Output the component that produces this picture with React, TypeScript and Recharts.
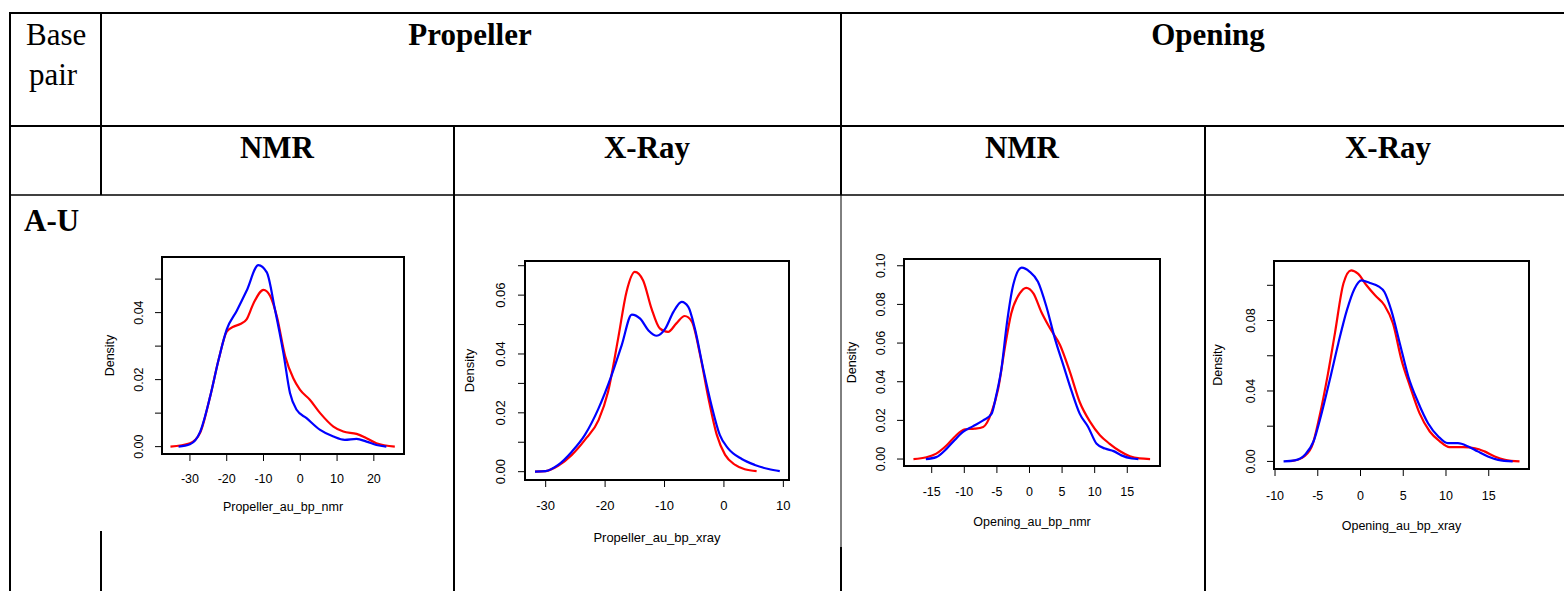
import { LineChart, Line, XAxis, YAxis, ReferenceArea } from "recharts";

// Propeller, NMR (red / blue density curves)
const PROP_NMR_RED = [
  { x: -35.3, d: 0 }, { x: -30, d: 0.001 }, { x: -27.2, d: 0.0042 }, { x: -24.5, d: 0.015 },
  { x: -22.2, d: 0.026 }, { x: -20, d: 0.0343 }, { x: -18.2, d: 0.0358 }, { x: -16.3, d: 0.0366 },
  { x: -14.6, d: 0.038 }, { x: -12.7, d: 0.0428 }, { x: -10, d: 0.0468 }, { x: -8.2, d: 0.045 },
  { x: -6.4, d: 0.039 }, { x: -4.1, d: 0.027 }, { x: -1.9, d: 0.0204 }, { x: -0.1, d: 0.017 },
  { x: 2.6, d: 0.014 }, { x: 5.4, d: 0.01 }, { x: 9, d: 0.006 }, { x: 11.7, d: 0.0045 },
  { x: 15.3, d: 0.0038 }, { x: 18, d: 0.0025 }, { x: 20.7, d: 0.001 }, { x: 25.7, d: 0 },
];
const PROP_NMR_BLUE = [
  { x: -33.1, d: 0 }, { x: -30, d: 0.0007 }, { x: -27.2, d: 0.0045 }, { x: -24.5, d: 0.015 },
  { x: -22.2, d: 0.026 }, { x: -20, d: 0.035 }, { x: -17.3, d: 0.0405 }, { x: -14.6, d: 0.0465 },
  { x: -11.4, d: 0.0542 }, { x: -9.1, d: 0.052 }, { x: -6.9, d: 0.041 }, { x: -4.6, d: 0.028 },
  { x: -2.8, d: 0.016 }, { x: -1, d: 0.011 }, { x: 1.7, d: 0.0085 }, { x: 5.4, d: 0.005 },
  { x: 9, d: 0.003 }, { x: 12.1, d: 0.002 }, { x: 15.3, d: 0.0023 }, { x: 18, d: 0.0015 },
  { x: 20.7, d: 0.0005 }, { x: 23.4, d: 0 },
];

// Propeller, X-Ray
const PROP_XRAY_RED = [
  { x: -31.8, d: 0 }, { x: -30, d: 0.0002 }, { x: -27.9, d: 0.002 }, { x: -25.6, d: 0.0057 },
  { x: -23.4, d: 0.0108 }, { x: -21.1, d: 0.0175 }, { x: -19.5, d: 0.0272 }, { x: -17.8, d: 0.0453 },
  { x: -16.4, d: 0.0611 }, { x: -15, d: 0.0679 }, { x: -13.6, d: 0.065 }, { x: -12.2, d: 0.0555 },
  { x: -10.8, d: 0.0487 }, { x: -9.4, d: 0.0475 }, { x: -8, d: 0.0504 }, { x: -6.6, d: 0.0529 },
  { x: -5.4, d: 0.051 }, { x: -4, d: 0.0396 }, { x: -2.6, d: 0.0249 }, { x: -1.2, d: 0.0125 },
  { x: 0.2, d: 0.0057 }, { x: 1.9, d: 0.0023 }, { x: 3.5, d: 0.0008 }, { x: 5.5, d: 0.0002 },
];
const PROP_XRAY_BLUE = [
  { x: -31.8, d: 0 }, { x: -30, d: 0.0002 }, { x: -27.9, d: 0.0023 }, { x: -25.6, d: 0.0068 },
  { x: -23.4, d: 0.0125 }, { x: -21.1, d: 0.0215 }, { x: -18.9, d: 0.0328 }, { x: -17.2, d: 0.043 },
  { x: -15.5, d: 0.0534 }, { x: -14.1, d: 0.052 }, { x: -12.7, d: 0.048 }, { x: -11.3, d: 0.0462 },
  { x: -9.9, d: 0.0485 }, { x: -8.5, d: 0.0543 }, { x: -7.1, d: 0.0577 }, { x: -6, d: 0.056 },
  { x: -4.9, d: 0.0487 }, { x: -3.5, d: 0.0351 }, { x: -2.1, d: 0.0226 }, { x: -0.7, d: 0.0125 },
  { x: 0.7, d: 0.0079 }, { x: 3, d: 0.0043 }, { x: 5.2, d: 0.0023 }, { x: 7.5, d: 0.0009 },
  { x: 9.4, d: 0.0002 },
];

// Opening, NMR
const OPEN_NMR_RED = [
  { x: -17.8, d: 0 }, { x: -15.8, d: 0.0009 }, { x: -14.3, d: 0.0028 }, { x: -12.7, d: 0.0071 },
  { x: -11.5, d: 0.0114 }, { x: -9.9, d: 0.0154 }, { x: -8.4, d: 0.0157 }, { x: -7.1, d: 0.0166 },
  { x: -5.8, d: 0.0244 }, { x: -4.8, d: 0.0364 }, { x: -3.8, d: 0.0572 }, { x: -2.8, d: 0.0753 },
  { x: -1.5, d: 0.0857 }, { x: -0.5, d: 0.0886 }, { x: 0.6, d: 0.0857 }, { x: 1.8, d: 0.0762 },
  { x: 3.1, d: 0.0679 }, { x: 4.7, d: 0.0589 }, { x: 6.2, d: 0.0451 }, { x: 7.7, d: 0.0295 },
  { x: 9.3, d: 0.0192 }, { x: 10.8, d: 0.0123 }, { x: 12.3, d: 0.0079 }, { x: 13.9, d: 0.004 },
  { x: 15.4, d: 0.0014 }, { x: 16.9, d: 0.0003 }, { x: 18.5, d: 0 },
];
const OPEN_NMR_BLUE = [
  { x: -15.9, d: 0 }, { x: -14.3, d: 0.001 }, { x: -12.7, d: 0.0054 }, { x: -11.5, d: 0.0097 },
  { x: -10.2, d: 0.014 }, { x: -8.7, d: 0.0169 }, { x: -7.1, d: 0.02 }, { x: -5.8, d: 0.0235 },
  { x: -5.1, d: 0.033 }, { x: -4.3, d: 0.0468 }, { x: -3.5, d: 0.0693 }, { x: -2.5, d: 0.09 },
  { x: -1.2, d: 0.099 }, { x: 0, d: 0.097 }, { x: 1.3, d: 0.0917 }, { x: 2.6, d: 0.0788 },
  { x: 3.9, d: 0.0623 }, { x: 5.2, d: 0.0485 }, { x: 6.5, d: 0.0347 }, { x: 7.7, d: 0.0235 },
  { x: 9, d: 0.0166 }, { x: 10.3, d: 0.0079 }, { x: 11.6, d: 0.0054 }, { x: 12.9, d: 0.0041 },
  { x: 14.1, d: 0.0019 }, { x: 15.7, d: 0.0003 }, { x: 16.7, d: 0 },
];

// Opening, X-Ray
const OPEN_XRAY_RED = [
  { x: -8.1, d: 0.0002 }, { x: -6.9, d: 0.0019 }, { x: -5.7, d: 0.0085 }, { x: -4.8, d: 0.0255 },
  { x: -3.8, d: 0.05 }, { x: -3, d: 0.0726 }, { x: -2, d: 0.101 }, { x: -1.1, d: 0.1085 },
  { x: -0.3, d: 0.1066 }, { x: 0.7, d: 0.1 }, { x: 1.7, d: 0.0943 }, { x: 2.8, d: 0.0887 },
  { x: 3.8, d: 0.0783 }, { x: 4.8, d: 0.0575 }, { x: 5.8, d: 0.0425 }, { x: 6.9, d: 0.0274 },
  { x: 8.1, d: 0.017 }, { x: 9.3, d: 0.0113 }, { x: 10.4, d: 0.0081 }, { x: 12, d: 0.0081 },
  { x: 13.4, d: 0.0075 }, { x: 14.5, d: 0.0057 }, { x: 15.7, d: 0.0028 }, { x: 16.9, d: 0.0009 },
  { x: 18.6, d: 0 },
];
const OPEN_XRAY_BLUE = [
  { x: -9, d: 0 }, { x: -7.7, d: 0.0006 }, { x: -6.5, d: 0.0038 }, { x: -5.5, d: 0.0113 },
  { x: -4.6, d: 0.0264 }, { x: -3.6, d: 0.0462 }, { x: -2.6, d: 0.067 }, { x: -1.6, d: 0.0858 },
  { x: -0.7, d: 0.0981 }, { x: 0.1, d: 0.1028 }, { x: 1.1, d: 0.1013 }, { x: 2.1, d: 0.0994 },
  { x: 2.8, d: 0.0962 }, { x: 3.6, d: 0.0858 }, { x: 4.6, d: 0.067 }, { x: 5.6, d: 0.0481 },
  { x: 6.7, d: 0.034 }, { x: 7.9, d: 0.0217 }, { x: 9.1, d: 0.0142 }, { x: 10.2, d: 0.0104 },
  { x: 11.4, d: 0.0104 }, { x: 12.6, d: 0.0085 }, { x: 13.7, d: 0.0057 }, { x: 14.9, d: 0.0028 },
  { x: 16.1, d: 0.0009 }, { x: 17.8, d: 0 },
];

// axis ticks (all tick marks) and which y ticks get a label
const PROP_NMR_X_TICKS = [-30, -20, -10, 0, 10, 20];
const PROP_NMR_Y_TICKS = [0, 0.01, 0.02, 0.03, 0.04, 0.05];
const PROP_NMR_Y_LABELS = [0, 0.02, 0.04];
const PROP_XRAY_X_TICKS = [-30, -20, -10, 0, 10];
const PROP_XRAY_Y_TICKS = [0, 0.01, 0.02, 0.03, 0.04, 0.05, 0.06, 0.07];
const PROP_XRAY_Y_LABELS = [0, 0.02, 0.04, 0.06];
const OPEN_NMR_X_TICKS = [-15, -10, -5, 0, 5, 10, 15];
const OPEN_NMR_Y_TICKS = [0, 0.02, 0.04, 0.06, 0.08, 0.1];
const OPEN_NMR_Y_LABELS = [0, 0.02, 0.04, 0.06, 0.08, 0.1];
const OPEN_XRAY_X_TICKS = [-10, -5, 0, 5, 10, 15];
const OPEN_XRAY_Y_TICKS = [0, 0.02, 0.04, 0.06, 0.08, 0.1];
const OPEN_XRAY_Y_LABELS = [0, 0.04, 0.08];

const SANS = "'Liberation Sans', Arial, sans-serif";
const SERIF = "'Liberation Serif', 'Times New Roman', serif";

const ML = 70;
const MT = 6;
const MR = 6;
const MB = 72;

type Pt = { x: number; d: number };
type Spec = {
  box: { x: number; y: number; w: number; h: number };
  xDomain: [number, number];
  yDomain: [number, number];
  xTicks: number[];
  yTicks: number[];
  yLabels: number[];
  red: Pt[];
  blue: Pt[];
  xLabel: string;
  fs: number;
  xLabDy: number;
  densDx: number;
  yTickDx: number;
  xTickDy: number;
};

const PLOTS: Spec[] = [
  {
    box: { x: 162, y: 257, w: 242, h: 197 },
    xDomain: [-37.6, 28.2], yDomain: [-0.0022, 0.0566],
    xTicks: PROP_NMR_X_TICKS, yTicks: PROP_NMR_Y_TICKS, yLabels: PROP_NMR_Y_LABELS,
    red: PROP_NMR_RED, blue: PROP_NMR_BLUE, xLabel: "Propeller_au_bp_nmr",
    fs: 12.5, xLabDy: 57, densDx: -52, yTickDx: -10, xTickDy: 20,
  },
  {
    box: { x: 525, y: 261, w: 264, h: 219 },
    xDomain: [-33.48, 10.95], yDomain: [-0.00283, 0.0716],
    xTicks: PROP_XRAY_X_TICKS, yTicks: PROP_XRAY_Y_TICKS, yLabels: PROP_XRAY_Y_LABELS,
    red: PROP_XRAY_RED, blue: PROP_XRAY_BLUE, xLabel: "Propeller_au_bp_xray",
    fs: 13, xLabDy: 62, densDx: -56, yTickDx: -11, xTickDy: 21,
  },
  {
    box: { x: 904, y: 259, w: 256, h: 207 },
    xDomain: [-19.25, 20.02], yDomain: [-0.0036, 0.1035],
    xTicks: OPEN_NMR_X_TICKS, yTicks: OPEN_NMR_Y_TICKS, yLabels: OPEN_NMR_Y_LABELS,
    red: OPEN_NMR_RED, blue: OPEN_NMR_BLUE, xLabel: "Opening_au_bp_nmr",
    fs: 12.5, xLabDy: 60, densDx: -52, yTickDx: -10, xTickDy: 21,
  },
  {
    box: { x: 1274, y: 261, w: 255, h: 208 },
    xDomain: [-10.12, 19.71], yDomain: [-0.0043, 0.1138],
    xTicks: OPEN_XRAY_X_TICKS, yTicks: OPEN_XRAY_Y_TICKS, yLabels: OPEN_XRAY_Y_LABELS,
    red: OPEN_XRAY_RED, blue: OPEN_XRAY_BLUE, xLabel: "Opening_au_bp_xray",
    fs: 12.5, xLabDy: 61, densDx: -56, yTickDx: -10, xTickDy: 22,
  },
];

function DensityPlot({ p }: { p: Spec }) {
  const { box } = p;
  const txt = { fontFamily: SANS, fontSize: p.fs, fill: "#000" };
  const cx = ML + box.w / 2;
  const cy = MT + box.h / 2;
  const dx = ML + p.densDx;
  return (
    <div style={{ position: "absolute", left: box.x - ML, top: box.y - MT }}>
      <LineChart
        width={box.w + ML + MR}
        height={box.h + MT + MB}
        margin={{ top: MT, right: MR, left: 0, bottom: 0 }}
      >
        <XAxis
          type="number"
          dataKey="x"
          domain={p.xDomain}
          ticks={p.xTicks}
          interval={0}
          allowDataOverflow
          height={MB}
          axisLine={false}
          tickLine={{ stroke: "#000", strokeWidth: 1 }}
          tickSize={7}
          tick={(t: any) => (
            <text x={t.x} y={t.y + p.xTickDy} textAnchor="middle" {...txt}>
              {t.payload.value}
            </text>
          )}
          label={{
            content: () => (
              <text x={cx} y={MT + box.h + p.xLabDy} textAnchor="middle" {...txt}>
                {p.xLabel}
              </text>
            ),
          }}
        />
        <YAxis
          type="number"
          domain={p.yDomain}
          ticks={p.yTicks}
          interval={0}
          allowDataOverflow
          width={ML}
          axisLine={false}
          tickLine={{ stroke: "#000", strokeWidth: 1 }}
          tickSize={7}
          tick={(t: any) => {
            const v = Number(t.payload.value);
            if (!p.yLabels.some((l) => Math.abs(l - v) < 1e-9)) return <g />;
            const tx = t.x + p.yTickDx;
            return (
              <text x={tx} y={t.y} transform={`rotate(-90 ${tx} ${t.y})`} textAnchor="middle" {...txt}>
                {v.toFixed(2)}
              </text>
            );
          }}
          label={{
            content: () => (
              <text
                x={dx}
                y={cy}
                transform={`rotate(-90 ${dx} ${cy})`}
                textAnchor="middle"
                dominantBaseline="central"
                {...txt}
              >
                Density
              </text>
            ),
          }}
        />
        <Line
          data={p.red}
          dataKey="d"
          type="monotone"
          stroke="#ff0000"
          strokeWidth={2.2}
          dot={false}
          activeDot={false}
          isAnimationActive={false}
        />
        <Line
          data={p.blue}
          dataKey="d"
          type="monotone"
          stroke="#0000ff"
          strokeWidth={2.2}
          dot={false}
          activeDot={false}
          isAnimationActive={false}
        />
        <ReferenceArea
          x1={p.xDomain[0]}
          x2={p.xDomain[1]}
          y1={p.yDomain[0]}
          y2={p.yDomain[1]}
          fill="none"
          stroke="#000"
          strokeWidth={2}
          ifOverflow="visible"
        />
      </LineChart>
    </div>
  );
}

function TableGrid() {
  const head = { fontFamily: SERIF, fontSize: 31, fill: "#000" };
  const bold = { ...head, fontWeight: 700 };
  return (
    <svg width={1564} height={591} style={{ position: "absolute", left: 0, top: 0 }}>
      <g stroke="#000">
        <line x1={9} y1={13} x2={1564} y2={13} strokeWidth={2} />
        <line x1={9} y1={126} x2={1564} y2={126} strokeWidth={2} />
        <line x1={9} y1={195} x2={1564} y2={195} strokeWidth={1.5} />
        <line x1={10} y1={12} x2={10} y2={591} strokeWidth={2} />
        <line x1={101} y1={12} x2={101} y2={195} strokeWidth={2} />
        <line x1={101} y1={531} x2={101} y2={591} strokeWidth={2} />
        <line x1={454} y1={126} x2={454} y2={591} strokeWidth={2} />
        <line x1={841} y1={12} x2={841} y2={195} strokeWidth={2} />
        <line x1={841} y1={195} x2={841} y2={547} strokeWidth={1} />
        <line x1={841} y1={547} x2={841} y2={591} strokeWidth={2} />
        <line x1={1205} y1={126} x2={1205} y2={591} strokeWidth={2} />
      </g>
      <text x={26} y={45} {...head}>Base</text>
      <text x={29} y={85} {...head}>pair</text>
      <text x={470} y={45} textAnchor="middle" {...bold}>Propeller</text>
      <text x={1208} y={45} textAnchor="middle" {...bold}>Opening</text>
      <text x={277} y={158} textAnchor="middle" {...bold}>NMR</text>
      <text x={647} y={158} textAnchor="middle" {...bold}>X-Ray</text>
      <text x={1022} y={158} textAnchor="middle" {...bold}>NMR</text>
      <text x={1388} y={158} textAnchor="middle" {...bold}>X-Ray</text>
      <text x={24} y={231} {...bold}>A-U</text>
    </svg>
  );
}

export default function App() {
  return (
    <div style={{ position: "relative", width: 1564, height: 591, background: "#fff", overflow: "hidden" }}>
      <style>{"body{margin:0}"}</style>
      <TableGrid />
      {PLOTS.map((p) => (
        <DensityPlot key={p.xLabel} p={p} />
      ))}
    </div>
  );
}
